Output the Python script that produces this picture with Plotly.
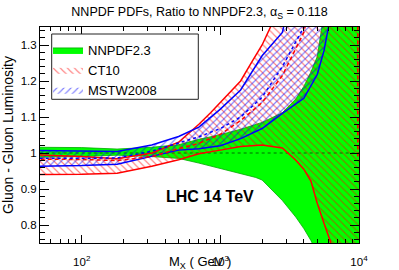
import math
import plotly.graph_objects as go

# ---------------- data (ratio to NNPDF2.3 central) ----------------
# NNPDF2.3 band
nn_up_m = [45, 100, 180, 320, 500, 700, 1000, 1400, 2000, 2800, 3500, 4000, 4500, 5000, 5600, 7000, 12000]
nn_up = [1.016, 1.015, 1.011, 1.016, 1.023, 1.038, 1.051, 1.066, 1.085, 1.112, 1.15, 1.185, 1.225, 1.268, 1.39, 1.6, 2.2]
nn_lo_m = [45, 100, 180, 320, 500, 700, 1000, 1400, 1800, 2000, 2800, 3500, 4000, 4500, 5000, 12000]
nn_lo = [0.988, 0.99, 0.994, 0.99, 0.985, 0.972, 0.958, 0.943, 0.932, 0.925, 0.868, 0.822, 0.79, 0.757, 0.72, 0.3]
nn_c_m = [45, 12000]
nn_c = [1.0, 1.0]

# CT10
ct_up_m = [45, 100, 180, 320, 500, 700, 850, 1000, 1200, 1400, 1700, 2000, 2300, 2800, 4000, 12000]
ct_up = [0.995, 0.99, 0.984, 1.0, 1.03, 1.08, 1.112, 1.14, 1.172, 1.2, 1.255, 1.3, 1.35, 1.45, 1.8, 3.0]
ct_lo_m = [45, 100, 180, 320, 500, 700, 1000, 1400, 2000, 2800, 3500, 4000, 4500, 5000, 5600, 6300, 8000, 12000]
ct_lo = [0.94, 0.941, 0.944, 0.963, 0.981, 0.998, 1.008, 1.018, 1.022, 1.014, 0.98, 0.955, 0.922, 0.86, 0.804, 0.748, 0.5, 0.2]
ct_c_m = [45, 100, 180, 320, 500, 700, 1000, 1400, 2000, 2800, 4000, 5000]
ct_c = [0.983, 0.982, 0.979, 0.99, 1.012, 1.027, 1.052, 1.09, 1.14, 1.215, 1.335, 1.5]
ct_edge_m = [9800, 9800]
ct_edge = [0.99, 1.4]

# MSTW2008
ms_up_m = [45, 100, 180, 320, 500, 700, 1000, 1400, 2000, 2800, 4000]
ms_up = [1.007, 1.006, 1.004, 1.022, 1.046, 1.072, 1.122, 1.175, 1.27, 1.335, 1.6]
ms_lo_m = [45, 100, 180, 320, 500, 700, 1000, 1400, 2000, 2800, 4000, 5000, 5600, 6300, 8000]
ms_lo = [0.963, 0.965, 0.969, 0.99, 1.008, 1.012, 1.02, 1.04, 1.068, 1.11, 1.152, 1.218, 1.285, 1.39, 1.8]
ms_c_m = [45, 100, 180, 320, 500, 700, 1000, 1400, 2000, 2800, 4000, 5000]
ms_c = [0.985, 0.985, 0.986, 1.005, 1.028, 1.045, 1.068, 1.1, 1.155, 1.24, 1.35, 1.5]

x_tick_vals = [100, 1000, 10000]
x_tick_text = ["10<sup>2</sup>", "10<sup>3</sup>", "10<sup>4</sup>"]
x_minor_vals = [60, 70, 80, 90, 200, 300, 400, 500, 600, 700, 800, 900,
                2000, 3000, 4000, 5000, 6000, 7000, 8000, 9000]

FONT = "Liberation Sans, Arial, sans-serif"
GREEN = "#00ff00"
RED = "#ff0000"
BLUE = "#0000ff"


def band(m_up, v_up, m_lo, v_lo):
    return list(m_up) + list(m_lo)[::-1], list(v_up) + list(v_lo)[::-1]


fig = go.Figure()

# NNPDF2.3 solid green band
bx, by = band(nn_up_m, nn_up, nn_lo_m, nn_lo)
fig.add_trace(go.Scatter(x=bx, y=by, fill="toself", fillcolor=GREEN, mode="lines",
                         line=dict(color="rgb(0,170,0)", width=0.8), name="NNPDF2.3",
                         legendgroup="nn", hoverinfo="skip"))
fig.add_trace(go.Scatter(x=nn_c_m, y=nn_c, mode="lines", showlegend=False,
                         line=dict(color="rgb(0,110,0)", width=1.2, dash="dot"), hoverinfo="skip"))

# CT10 red hatch band
bx, by = band(ct_up_m, ct_up, ct_lo_m, ct_lo)
fig.add_trace(go.Scatter(x=bx, y=by, fill="toself", fillcolor="rgba(0,0,0,0)", mode="lines",
                         line=dict(width=0, color=RED), name="CT10", legendgroup="ct",
                         fillpattern=dict(shape="\\", fgcolor=RED, bgcolor="rgba(0,0,0,0)",
                                          size=5, solidity=0.22),
                         hoverinfo="skip"))
# MSTW blue hatch band
bx, by = band(ms_up_m, ms_up, ms_lo_m, ms_lo)
fig.add_trace(go.Scatter(x=bx, y=by, fill="toself", fillcolor="rgba(0,0,0,0)", mode="lines",
                         line=dict(width=0, color=BLUE), name="MSTW2008", legendgroup="ms",
                         fillpattern=dict(shape="/", fgcolor=BLUE, bgcolor="rgba(0,0,0,0)",
                                          size=5, solidity=0.22),
                         hoverinfo="skip"))

# edge and central lines
for m, v, col, dash in [
    (ct_up_m, ct_up, RED, "solid"), (ct_lo_m, ct_lo, RED, "solid"),
    (ms_up_m, ms_up, BLUE, "solid"), (ms_lo_m, ms_lo, BLUE, "solid"),
    (ct_c_m, ct_c, RED, "4px,3px"), (ms_c_m, ms_c, BLUE, "dot"),
    (ct_edge_m, ct_edge, RED, "4px,3px"),
]:
    fig.add_trace(go.Scatter(x=m, y=v, mode="lines", showlegend=False, hoverinfo="skip",
                             line=dict(color=col, width=1.5, dash=dash)))

# plot area geometry (px) used only for placing annotations / legend box
W, H = 399, 270
ML, MR, MT, MB = 40, 40, 27, 27
PW, PH = W - ML - MR, H - MT - MB


def px_x(p):
    return (p - ML) / PW


def px_y(p):
    return (H - MB - p) / PH


fig.add_shape(type="rect", xref="paper", yref="paper",
              x0=px_x(51.7), x1=px_x(198.3), y0=px_y(99.3), y1=px_y(34),
              line=dict(color="#222", width=1), fillcolor="white", layer="above")

fig.add_annotation(text="<b>LHC 14 TeV</b>", xref="paper", yref="paper",
                   x=px_x(210), y=px_y(207), showarrow=False,
                   font=dict(size=16, color="black", family=FONT))
fig.add_annotation(text="Gluon - Gluon Luminosity", textangle=-90, xref="paper", yref="paper",
                   x=px_x(8), y=0.5, showarrow=False, xanchor="center", yanchor="middle",
                   font=dict(size=14, color="black", family=FONT))
fig.add_annotation(text="M<sub>X</sub> ( GeV )", xref="paper", yref="paper",
                   x=px_x(200), y=px_y(262), showarrow=False, xanchor="center", yanchor="middle",
                   font=dict(size=13, color="black", family=FONT))

fig.update_layout(
    width=W, height=H,
    margin=dict(l=ML, r=MR, t=MT, b=MB, autoexpand=False),
    paper_bgcolor="white", plot_bgcolor="white",
    font=dict(family=FONT, color="black", size=12),
    title=dict(text="NNPDF PDFs, Ratio to NNPDF2.3, α<sub>S</sub> = 0.118",
               x=0.5, xanchor="center", y=1 - 11.5 / H, yanchor="middle",
               font=dict(size=12.5, family=FONT, color="black")),
    showlegend=True,
    legend=dict(x=px_x(48), y=px_y(35), xanchor="left", yanchor="top",
                bgcolor="rgba(0,0,0,0)", borderwidth=0, tracegroupgap=0,
                font=dict(size=13, family=FONT, color="black"),
                itemwidth=30),
)

fig.update_xaxes(type="log", range=[math.log10(50), 4], automargin=False,
                 tickvals=x_tick_vals, ticktext=x_tick_text,
                 ticks="inside", ticklen=8, tickcolor="black",
                 showline=True, linecolor="black", linewidth=1, mirror="ticks",
                 showgrid=False, zeroline=False,
                 ticklabelstandoff=8,
                 tickfont=dict(size=11.5, family=FONT, color="black"),
                 minor=dict(tickvals=x_minor_vals, ticks="inside", ticklen=4,
                            tickcolor="black", showgrid=False))
fig.update_yaxes(range=[0.75, 1.35], dtick=0.1, tick0=0.8, automargin=False,
                 ticks="inside", ticklen=9, tickcolor="black",
                 showline=True, linecolor="black", linewidth=1, mirror="ticks",
                 showgrid=False, zeroline=False,
                 tickfont=dict(size=11.5, family=FONT, color="black"),
                 minor=dict(dtick=0.02, ticks="inside", ticklen=5,
                            tickcolor="black", showgrid=False))

fig.write_html("out.html", config={"displayModeBar": False, "staticPlot": True},
               post_script="document.body.style.margin='0';document.body.style.padding='0';")
